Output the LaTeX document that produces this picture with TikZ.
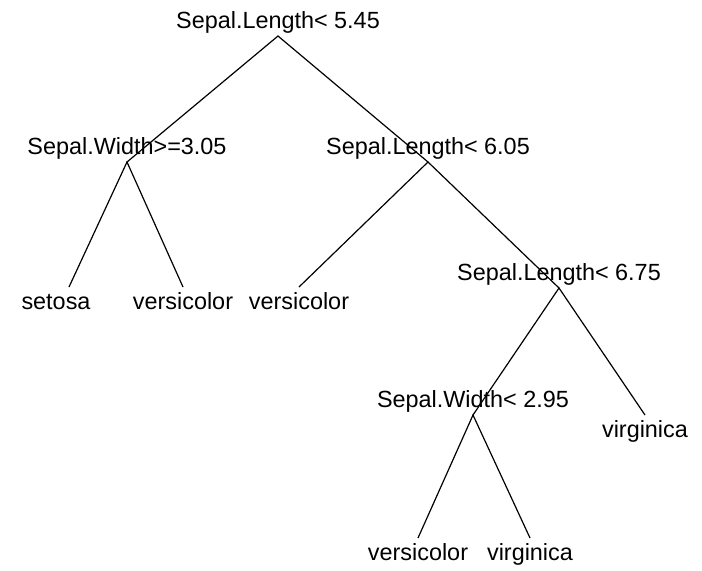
\documentclass[tikz,border=0pt]{standalone}
\usepackage{fontspec}
\setmainfont{Liberation Sans}
\usepackage{tikz}
\usetikzlibrary{positioning}

\begin{document}
\begin{tikzpicture}[x=0.5pt, y=-0.5pt, line width=0.6pt,
    splitlab/.style={anchor=base, yshift=4pt, inner sep=0pt,
        font=\fontsize{11.7}{14}\selectfont},
    leaflab/.style={anchor=base, yshift=-11pt, inner sep=0pt,
        font=\fontsize{11.7}{14}\selectfont}]
    \useasboundingbox (0,0) rectangle (702,570);

    % 1. Các nút tách (đỉnh của nhánh)
    \coordinate (n1) at (278,36);
    \coordinate (n2) at (127,162);
    \coordinate (n3) at (428,162);
    \coordinate (n7) at (559,288);
    \coordinate (n14) at (473,415);

    % 2. Các lá
    \coordinate (l4) at (69,287);
    \coordinate (l5) at (183,287);
    \coordinate (l6) at (299,287);
    \coordinate (l15) at (645,415);
    \coordinate (l28) at (418,538);
    \coordinate (l29) at (530,538);

    % 3. Vẽ các nhánh
    \draw (l4) -- (n2) -- (l5);
    \draw (n2) -- (n1) -- (n3);
    \draw (l6) -- (n3) -- (n7);
    \draw (n14) -- (n7) -- (l15);
    \draw (l28) -- (n14) -- (l29);

    % 4. Nhãn điều kiện tách
    \node[splitlab] (t1) at (n1) {Sepal.Length< 5.45};
    \node[splitlab] (t2) at (n2) {Sepal.Width>=3.05};
    \node[splitlab] (t3) at (n3) {Sepal.Length< 6.05};
    \node[splitlab] (t7) at (n7) {Sepal.Length< 6.75};
    \node[splitlab] (t14) at (n14) {Sepal.Width< 2.95};

    % 5. Nhãn lớp ở các lá
    \node[leaflab, xshift=-6.5pt] (c4) at (l4) {setosa};
    \node[leaflab] (c5) at (l5) {versicolor};
    \node[leaflab] (c6) at (l6) {versicolor};
    \node[leaflab] (c15) at (l15) {virginica};
    \node[leaflab] (c28) at (l28) {versicolor};
    \node[leaflab] (c29) at (l29) {virginica};
\end{tikzpicture}
\end{document}
